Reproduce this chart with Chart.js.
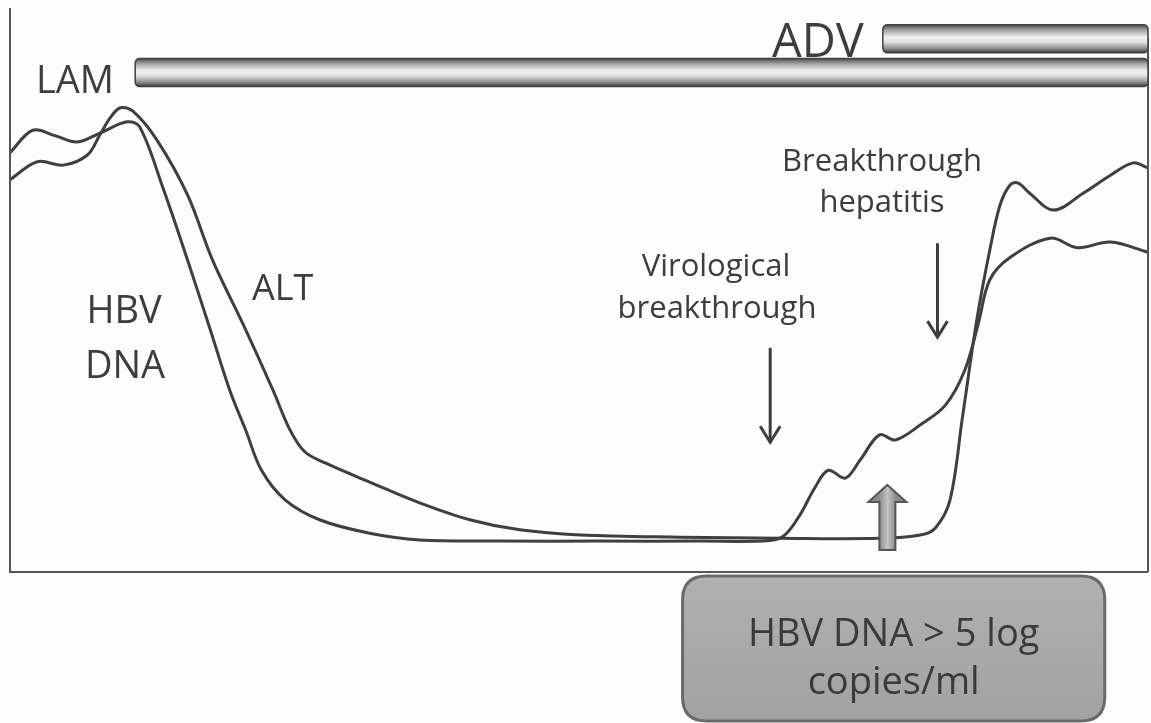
<!DOCTYPE html>
<html>
<head>
<meta charset="utf-8">
<script src="https://cdn.jsdelivr.net/npm/chart.js@4"></script>
<style>
  html, body { margin: 0; padding: 0; background: #fdfdfd; }
  #wrap { width: 1151px; height: 723px; position: relative; }
</style>
</head>
<body>
<div id="wrap"><canvas id="myChart"></canvas></div>
<script>
// time axis runs 0..100 (arbitrary), level axis 0..100 (arbitrary)
const hbvTime  = [0, 2.0, 4.0, 5.9, 7.9, 10.3, 11.4, 13.5, 15.6, 17.6, 19.3, 20.7, 22.1, 24.2, 27.2, 31.6, 36.0, 43.1, 51.8, 60.6, 66.8, 68.1, 69.4, 70.7, 71.9, 73.4, 74.7, 76.4, 77.8, 80.0, 82.2, 83.9, 85.1, 86.1, 87.9, 91.4, 93.8, 96.7, 100];
const hbvLevel = [74.6, 78.6, 77.6, 76.5, 78.1, 80.1, 79.2, 68.0, 55.5, 43.1, 32.4, 25.3, 18.1, 12.8, 9.3, 6.9, 5.7, 5.5, 5.5, 5.5, 5.6, 6.6, 10.1, 14.9, 18.1, 16.7, 19.9, 24.4, 23.5, 26.2, 29.7, 35.9, 44.3, 52.0, 56.0, 59.4, 57.7, 58.7, 56.9];

const altTime  = [0, 2.4, 4.7, 6.8, 7.9, 8.8, 9.7, 10.8, 12.9, 15.6, 17.8, 20.5, 23.1, 24.6, 25.9, 27.7, 31.6, 36.0, 40.4, 44.8, 50.1, 58.9, 67.7, 76.4, 80.0, 81.3, 82.6, 83.7, 85.0, 86.1, 87.0, 87.9, 88.6, 89.6, 91.7, 94.3, 96.7, 98.7, 100];
const altLevel = [69.8, 73.0, 72.4, 74.2, 77.8, 80.8, 82.6, 82.0, 76.9, 67.1, 55.5, 44.0, 32.4, 25.3, 21.4, 19.4, 16.0, 12.3, 9.3, 7.5, 6.6, 6.2, 6.0, 6.0, 6.6, 7.8, 12.8, 27.6, 45.4, 57.3, 65.3, 68.9, 69.2, 67.4, 64.4, 67.4, 70.6, 72.8, 71.9];

// treatment periods (start on the time axis, both run to the end)
const drugNames = ["LAM", "ADV"];
const drugStart = [11.0, 76.7];

const toPoints = (xs, ys) => xs.map((x, i) => ({ x, y: ys[i] }));

const ink = "#3d3d3d";
const font = "'Open Sans', sans-serif";

function roundRect(ctx, x, y, w, h, r) {
  ctx.beginPath();
  ctx.moveTo(x + r, y);
  ctx.lineTo(x + w - r, y);
  ctx.quadraticCurveTo(x + w, y, x + w, y + r);
  ctx.lineTo(x + w, y + h - r);
  ctx.quadraticCurveTo(x + w, y + h, x + w - r, y + h);
  ctx.lineTo(x + r, y + h);
  ctx.quadraticCurveTo(x, y + h, x, y + h - r);
  ctx.lineTo(x, y + r);
  ctx.quadraticCurveTo(x, y, x + r, y);
  ctx.closePath();
}

function downArrow(ctx, x, y1, y2) {
  ctx.save();
  ctx.strokeStyle = ink;
  ctx.lineWidth = 3;
  ctx.beginPath();
  ctx.moveTo(x, y1);
  ctx.lineTo(x, y2);
  ctx.stroke();
  ctx.beginPath();
  ctx.moveTo(x - 10, y2 - 16);
  ctx.lineTo(x, y2);
  ctx.lineTo(x + 10, y2 - 16);
  ctx.stroke();
  ctx.restore();
}

const sketch = {
  id: "sketch",
  beforeDraw(chart) {
    const { ctx, width, height } = chart;
    ctx.save();
    ctx.fillStyle = "#fdfdfd";
    ctx.fillRect(0, 0, width, height);
    ctx.restore();
  },
  afterDraw(chart) {
    const { ctx, chartArea: a, scales: { x, y } } = chart;
    ctx.save();

    // frame: left, bottom, right
    ctx.strokeStyle = "#555";
    ctx.lineWidth = 2;
    ctx.beginPath();
    ctx.moveTo(a.left, a.top - 2);
    ctx.lineTo(a.left, a.bottom);
    ctx.lineTo(a.right, a.bottom);
    ctx.moveTo(a.right, y.getPixelForValue(95));
    ctx.lineTo(a.right, a.bottom);
    ctx.stroke();

    // treatment bars
    const barY = [88.9, 94.9];
    drugNames.forEach((name, i) => {
      const x0 = x.getPixelForValue(drugStart[i]);
      const x1 = a.right;
      const cy = y.getPixelForValue(barY[i]);
      const h = 28;
      const g = ctx.createLinearGradient(0, cy - h / 2, 0, cy + h / 2);
      g.addColorStop(0, "#4a4a4a");
      g.addColorStop(0.18, "#9e9e9e");
      g.addColorStop(0.45, "#f2f2f2");
      g.addColorStop(0.62, "#e2e2e2");
      g.addColorStop(0.85, "#8e8e8e");
      g.addColorStop(1, "#404040");
      roundRect(ctx, x0, cy - h / 2, x1 - x0, h, 5);
      ctx.fillStyle = g;
      ctx.fill();
      ctx.strokeStyle = "#404040";
      ctx.lineWidth = 1.5;
      ctx.stroke();
    });

    ctx.fillStyle = ink;
    ctx.textBaseline = "alphabetic";
    ctx.textAlign = "left";
    ctx.font = "38px " + font;
    ctx.fillText(drugNames[0], 36, 93);
    ctx.font = "47px " + font;
    ctx.fillText(drugNames[1], 772, 57);

    ctx.font = "38px " + font;
    ctx.textAlign = "center";
    ctx.fillText("HBV", 124, 323);
    ctx.fillText("DNA", 125, 378);
    ctx.textAlign = "left";
    ctx.font = "36px " + font;
    ctx.fillText("ALT", 252, 300);

    ctx.font = "31px " + font;
    ctx.textAlign = "center";
    ctx.fillText("Virological", 716, 276);
    ctx.fillText("breakthrough", 717, 318);
    ctx.fillText("Breakthrough", 882, 171);
    ctx.fillText("hepatitis", 882, 212);

    downArrow(ctx, x.getPixelForValue(66.8), y.getPixelForValue(39.9), y.getPixelForValue(23.1));
    downArrow(ctx, x.getPixelForValue(81.5), y.getPixelForValue(58.5), y.getPixelForValue(41.8));

    // block arrow marking the threshold
    const bx = x.getPixelForValue(77.1);
    const tip = y.getPixelForValue(15.5);
    const foot = y.getPixelForValue(3.9);
    ctx.beginPath();
    ctx.moveTo(bx, tip);
    ctx.lineTo(bx + 19, tip + 17);
    ctx.lineTo(bx + 8, tip + 17);
    ctx.lineTo(bx + 8, foot);
    ctx.lineTo(bx - 8, foot);
    ctx.lineTo(bx - 8, tip + 17);
    ctx.lineTo(bx - 19, tip + 17);
    ctx.closePath();
    const bg = ctx.createLinearGradient(bx - 8, 0, bx + 8, 0);
    bg.addColorStop(0, "#8c8c8c");
    bg.addColorStop(0.5, "#c4c4c4");
    bg.addColorStop(1, "#8c8c8c");
    ctx.fillStyle = bg;
    ctx.fill();
    ctx.strokeStyle = "#555";
    ctx.lineWidth = 2;
    ctx.stroke();

    // threshold box
    const bl = x.getPixelForValue(59.1), br = x.getPixelForValue(96.2);
    const bt = a.bottom + 4, bb = a.bottom + 149;
    roundRect(ctx, bl, bt, br - bl, bb - bt, 24);
    const fg = ctx.createLinearGradient(0, bt, 0, bb);
    fg.addColorStop(0, "#b0b0b0");
    fg.addColorStop(0.5, "#a9a9a9");
    fg.addColorStop(1, "#a2a2a2");
    ctx.fillStyle = fg;
    ctx.fill();
    ctx.strokeStyle = "#6a6a6a";
    ctx.lineWidth = 3;
    ctx.stroke();

    ctx.fillStyle = "#3a3a3a";
    ctx.font = "38px " + font;
    ctx.textAlign = "center";
    ctx.fillText("HBV DNA > 5 log", (bl + br) / 2, 646);
    ctx.fillText("copies/ml", (bl + br) / 2, 694);

    ctx.restore();
  }
};

const lineStyle = {
  borderColor: "#3f3f3f",
  borderWidth: 3,
  pointRadius: 0,
  tension: 0.35,
  fill: false,
  clip: false,
};

const config = {
  type: "line",
  data: {
    datasets: [
      { label: "HBV DNA", data: toPoints(hbvTime, hbvLevel), ...lineStyle },
      { label: "ALT", data: toPoints(altTime, altLevel), ...lineStyle },
    ],
  },
  options: {
    responsive: true,
    maintainAspectRatio: false,
    animation: false,
    layout: { padding: { left: 10, right: 3, top: 10, bottom: 151 } },
    plugins: { legend: { display: false }, tooltip: { enabled: false } },
    scales: {
      x: { type: "linear", min: 0, max: 100, display: false },
      y: { min: 0, max: 100, display: false },
    },
  },
  plugins: [sketch],
};

const myChart = new Chart(document.querySelector("#myChart"), config);
</script>
</body>
</html>
